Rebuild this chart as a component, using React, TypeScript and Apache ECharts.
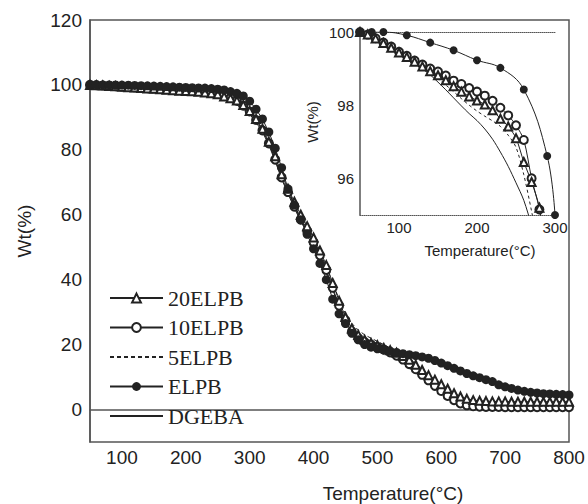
import React, { useEffect, useRef } from "react";
import * as echarts from "echarts";

// Temperatures (°C) for the main TGA curves
const temps = [50,60,70,80,90,100,110,120,130,140,150,160,170,180,190,200,210,220,230,240,250,260,270,280,290,300,310,320,330,340,350,360,370,380,390,400,410,420,430,440,450,460,470,480,490,500,510,520,530,540,550,560,570,580,590,600,610,620,630,640,650,660,670,680,690,700,710,720,730,740,750,760,770,780,790,800];

const wt20ELPB = [100,99.93,99.82,99.7,99.57,99.44,99.32,99.19,99.06,98.93,98.82,98.68,98.52,98.37,98.24,98.13,98.02,97.86,97.63,97.42,97.1,96.45,95.9,95.2,93.8,92.0,89.5,86.5,82.5,78.0,72.5,68.0,64.0,60.0,56.5,53.0,49.0,44.5,39.0,33.5,28.5,25.0,23.0,21.5,20.5,19.8,19.0,18.3,17.5,16.5,15.3,13.8,12.2,10.6,9.2,7.8,6.4,5.0,4.0,3.3,2.9,2.7,2.6,2.5,2.5,2.5,2.4,2.4,2.4,2.4,2.4,2.4,2.4,2.4,2.4,2.4];

const wt10ELPB = [100,99.93,99.83,99.71,99.6,99.46,99.35,99.22,99.11,99.0,98.92,98.81,98.67,98.58,98.47,98.37,98.26,98.12,97.93,97.72,97.45,97.05,96.0,95.15,93.6,91.8,89.2,86.0,82.0,77.0,71.5,67.0,62.5,58.5,55.0,51.5,47.5,43.0,37.5,32.0,27.5,24.0,22.0,20.8,20.0,19.3,18.5,17.6,16.6,15.4,14.0,12.4,10.7,9.0,7.3,5.7,4.2,2.9,1.9,1.3,1.0,0.9,0.8,0.8,0.8,0.7,0.7,0.7,0.7,0.7,0.7,0.7,0.7,0.7,0.7,0.7];

const wt5ELPB = [100,99.92,99.81,99.69,99.56,99.43,99.3,99.16,99.02,98.88,98.72,98.55,98.37,98.18,98.0,97.84,97.7,97.57,97.42,97.18,96.85,96.1,95.1,94.0,92.8,91.3,88.8,85.8,82.0,77.2,72.0,67.5,63.0,59.0,55.5,52.0,48.3,44.0,39.0,34.0,29.5,26.5,24.5,23.0,22.0,21.0,20.0,19.0,17.9,16.7,15.2,13.5,11.7,9.8,8.0,6.2,4.6,3.2,2.1,1.4,1.0,0.8,0.7,0.7,0.6,0.6,0.6,0.6,0.6,0.6,0.6,0.6,0.6,0.6,0.6,0.6];

const wtELPB = [100,100,100,100,99.97,99.94,99.91,99.85,99.78,99.71,99.64,99.57,99.5,99.41,99.32,99.23,99.16,99.09,99.02,98.87,98.68,98.43,97.95,97.4,96.61,95.0,92.5,89.5,85.5,80.5,74.5,68.0,63.0,58.5,54.0,49.5,45.0,40.0,34.0,29.5,26.5,23.5,21.5,20.0,19.2,18.7,18.3,18.0,17.6,17.2,16.9,16.6,16.2,15.8,15.1,14.3,13.5,12.7,11.9,11.1,10.4,9.8,9.2,8.6,7.6,7.0,6.5,6.0,5.6,5.3,5.1,4.9,4.8,4.7,4.6,4.5];

const wtDGEBA = [100,99.92,99.8,99.68,99.55,99.42,99.28,99.14,98.99,98.83,98.63,98.42,98.2,97.98,97.77,97.58,97.35,97.07,96.72,96.33,95.88,95.4,94.7,93.8,92.6,91.0,88.5,85.5,81.5,76.5,71.0,66.5,62.0,58.0,54.5,51.0,47.0,42.5,37.0,31.5,27.0,24.0,22.2,21.0,20.2,19.5,18.7,17.8,16.8,15.6,14.2,12.6,10.8,9.0,7.2,5.5,4.0,2.7,1.7,1.1,0.8,0.7,0.6,0.6,0.6,0.5,0.5,0.5,0.5,0.5,0.5,0.5,0.5,0.5,0.5,0.5];

// Inset: sparse ELPB markers
const insetELPBTemps = [50,65,80,110,140,170,200,230,260,290,300];
const insetELPB = [100,100,100,99.91,99.71,99.5,99.23,99.02,98.43,96.61,95.0];

const mainXTicks = [100,200,300,400,500,600,700,800];
const mainYTicks = [0,20,40,60,80,100,120];
const insetXTicks = [100,200,300];
const insetYTicks = [96,98,100];

const INK = "#222";
const AXIS = "#555";
const SANS = "Liberation Sans";
const CLEAR = "rgba(0,0,0,0)";

function pairs(xs: number[], ys: number[], maxT = Infinity) {
  const out: number[][] = [];
  for (let i = 0; i < xs.length; i++) if (xs[i] <= maxT) out.push([xs[i], ys[i]]);
  return out;
}

export default function App() {
  const ref = useRef<HTMLDivElement>(null);
  useEffect(() => {
    if (!ref.current) return;
    const chart = echarts.init(ref.current, null, { renderer: "svg" });
    const lineBase = (name: string, data: number[][], extra: any) => ({
      name,
      type: "line",
      data,
      xAxisIndex: 0,
      yAxisIndex: 0,
      lineStyle: { color: INK, width: 1 },
      itemStyle: { color: INK },
      ...extra,
    });
    const insetBase = (data: number[][], extra: any) => ({
      type: "line",
      data,
      xAxisIndex: 1,
      yAxisIndex: 1,
      lineStyle: { color: INK, width: 1 },
      itemStyle: { color: INK },
      legendHoverLink: false,
      ...extra,
    });
    chart.setOption({
      animation: false,
      backgroundColor: "#fff",
      legend: {
        orient: "vertical",
        left: 104,
        top: 282,
        itemWidth: 53,
        itemHeight: 11,
        itemGap: 7.5,
        textStyle: { fontFamily: "Liberation Serif", fontSize: 22, color: INK, lineHeight: 22 },
        data: ["20ELPB", "10ELPB", "5ELPB", "ELPB", "DGEBA"],
      },
      grid: [
        { left: 90, top: 20, right: 19, bottom: 62, show: true, borderColor: AXIS, borderWidth: 1.5 },
        { left: 360, top: 32, right: 33, bottom: 289 },
      ],
      xAxis: [
        {
          gridIndex: 0, type: "value", min: 50, max: 800, interval: 50,
          axisLine: { lineStyle: { color: AXIS, width: 1.5 } },
          axisTick: { show: false },
          splitLine: { show: false },
          axisLabel: {
            margin: 6, fontFamily: SANS, fontSize: 19, color: INK,
            formatter: (v: number) => (mainXTicks.includes(v) ? String(v) : ""),
          },
        },
        {
          gridIndex: 1, type: "value", min: 50, max: 300, interval: 50,
          axisLine: { lineStyle: { color: AXIS, width: 1, type: "dotted" } },
          axisTick: { show: false },
          splitLine: { show: false },
          axisLabel: {
            margin: 5, fontFamily: SANS, fontSize: 15, color: INK,
            formatter: (v: number) => (insetXTicks.includes(v) ? String(v) : ""),
          },
        },
        {
          gridIndex: 1, type: "value", min: 50, max: 300, position: "top",
          axisLine: { lineStyle: { color: AXIS, width: 1, type: "dotted" } },
          axisTick: { show: false },
          axisLabel: { show: false },
          splitLine: { show: false },
        },
      ],
      yAxis: [
        {
          gridIndex: 0, type: "value", min: -10, max: 120, interval: 10,
          name: "Wt(%)", nameLocation: "middle", nameGap: 56,
          nameTextStyle: { fontFamily: SANS, fontSize: 19, color: INK },
          axisLine: { show: true, lineStyle: { color: AXIS, width: 1.5 } },
          axisTick: { show: false },
          splitLine: { show: false },
          axisLabel: {
            margin: 8, fontFamily: SANS, fontSize: 19, color: INK,
            formatter: (v: number) => (mainYTicks.includes(v) ? String(v) : ""),
          },
        },
        {
          gridIndex: 1, type: "value", min: 95, max: 100, interval: 1,
          axisLine: { show: true, lineStyle: { color: AXIS, width: 1.5 } },
          axisTick: { show: false },
          splitLine: { show: false },
          axisLabel: {
            margin: 6, fontFamily: SANS, fontSize: 15, color: INK,
            formatter: (v: number) => (insetYTicks.includes(v) ? String(v) : ""),
          },
        },
      ],
      graphic: [
        {
          type: "text", x: 393, y: 493,
          style: { text: "Temperature(°C)", font: `19px "${SANS}"`, fill: INK, textAlign: "center", textVerticalAlign: "middle" },
        },
        {
          type: "text", x: 480, y: 250,
          style: { text: "Temperature(°C)", font: `15px "${SANS}"`, fill: INK, textAlign: "center", textVerticalAlign: "middle" },
        },
        {
          type: "text", x: 312, y: 122, rotation: Math.PI / 2,
          style: { text: "Wt(%)", font: `15px "${SANS}"`, fill: INK, textAlign: "center", textVerticalAlign: "middle" },
        },
      ],
      series: [
        lineBase("DGEBA", pairs(temps, wtDGEBA), { symbol: "circle", showSymbol: false, itemStyle: { color: CLEAR } }),
        lineBase("5ELPB", pairs(temps, wt5ELPB), { symbol: "circle", showSymbol: false, itemStyle: { color: CLEAR }, lineStyle: { color: INK, width: 1, type: [4, 3] } }),
        lineBase("10ELPB", pairs(temps, wt10ELPB), { symbol: "emptyCircle", symbolSize: 8 }),
        lineBase("20ELPB", pairs(temps, wt20ELPB), { symbol: "emptyTriangle", symbolSize: 8 }),
        lineBase("ELPB", pairs(temps, wtELPB), { symbol: "circle", symbolSize: 9 }),
        insetBase(pairs(temps, wtDGEBA, 300), { symbol: "none", smooth: 0.3 }),
        insetBase(pairs(temps, wt5ELPB, 300), { symbol: "none", smooth: 0.3, lineStyle: { color: INK, width: 1, type: [3, 3] } }),
        insetBase(pairs(temps, wt10ELPB, 300), { symbol: "emptyCircle", symbolSize: 8, smooth: 0.3 }),
        insetBase(pairs(temps, wt20ELPB, 300), { symbol: "emptyTriangle", symbolSize: 8, smooth: 0.3 }),
        insetBase(pairs(insetELPBTemps, insetELPB), { symbol: "circle", symbolSize: 8, smooth: 0.4 }),
      ],
    });
    return () => chart.dispose();
  }, []);
  return <div ref={ref} style={{ width: 588, height: 504, position: "absolute", left: 0, top: 0 }} />;
}
